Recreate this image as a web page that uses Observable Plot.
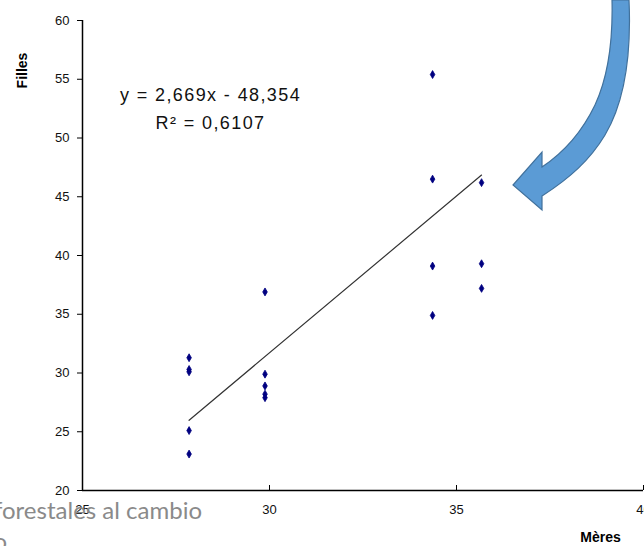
<!DOCTYPE html>
<html><head><meta charset="utf-8">
<script src="https://cdn.jsdelivr.net/npm/d3@7"></script>
<script src="https://cdn.jsdelivr.net/npm/@observablehq/plot@0.6"></script>
<style>
body{margin:0;background:#fff;}
#chart{width:644px;height:546px;overflow:hidden;position:relative;}
#chart svg{overflow:hidden;}
</style>
</head><body><div id="chart"></div>
<script>
// Data
const meres  = [27.85, 27.85, 27.85, 27.85, 27.85,
                29.88, 29.88, 29.88, 29.88, 29.88,
                34.36, 34.36, 34.36, 34.36,
                35.67, 35.67, 35.67];
const filles = [31.3, 30.3, 30.1, 25.1, 23.1,
                36.9, 29.9, 28.9, 28.2, 27.9,
                55.4, 46.5, 39.1, 34.9,
                46.2, 39.3, 37.2];
const xTicks = [25, 30, 35, 40];
const yTicks = [20, 25, 30, 35, 40, 45, 50, 55, 60];
const slope = 2.669, intercept = -48.354;
const equationText = "y = 2,669x - 48,354";
const r2Text = "R\u00B2 = 0,6107";
const xLabel = "Mères";
const yLabel = "Filles";
const overlayLine1 = "forestales al cambio";
const overlayLine2 = "o";

const pts = meres.map((m, i) => ({m, f: filles[i]}));
const trendX = [d3.min(meres), d3.max(meres)];

const chart = Plot.plot({
  width: 644, height: 546,
  marginLeft: 82, marginRight: 1, marginTop: 20, marginBottom: 56,
  x: {domain: [25, 40], label: null},
  y: {domain: [20, 60], label: null},
  style: {fontFamily: "'Liberation Sans', Arial, sans-serif", fontSize: "13px", background: "white", color: "#000"},
  marks: [
    Plot.axisY({ticks: yTicks, tickSize: 5, tickPadding: 8, label: null, fontSize: 13, stroke: "#000", fill: "#111"}),
    Plot.axisX({ticks: xTicks, tickSize: 5, dy: -5, tickFormat: () => "", label: null, stroke: "#000"}),
    Plot.axisX({ticks: xTicks, tickSize: 0, tickPadding: 14, label: null, fontSize: 13, fill: "#111"}),
    Plot.ruleX([25], {stroke: "#000", strokeWidth: 1.5}),
    Plot.ruleY([20], {stroke: "#000", strokeWidth: 1.5}),
    Plot.line(trendX, {x: d => d, y: d => slope * d + intercept, stroke: "#333", strokeWidth: 1.2}),
    Plot.dot(pts, {x: "m", y: "f", symbol: "diamond", r: 2.4, fill: "#000080", stroke: "#000080", strokeWidth: 0.8}),
    Plot.text([equationText], {text: d => d, frameAnchor: "top-left", dx: 128, dy: 75, fontSize: 18, textAnchor: "middle", lineAnchor: "middle", fill: "#111", className: "eq"}),
    Plot.text([r2Text], {text: d => d, frameAnchor: "top-left", dx: 128, dy: 103, fontSize: 18, textAnchor: "middle", lineAnchor: "middle", fill: "#111", className: "eq"}),
    Plot.text([yLabel], {text: d => d, frameAnchor: "top-left", dx: -60, dy: 50, rotate: -90, fontSize: 14, fontWeight: "bold", textAnchor: "middle", lineAnchor: "middle", fill: "#000"}),
    Plot.text([xLabel], {text: d => d, frameAnchor: "bottom-right", dx: -43, dy: 47, fontSize: 14, fontWeight: "bold", textAnchor: "middle", lineAnchor: "middle", fill: "#000"}),
    Plot.text([overlayLine1], {text: d => d, frameAnchor: "bottom-left", dx: -88.5, dy: 21, textAnchor: "start", lineAnchor: "middle", fontSize: 24, fontFamily: "Lato, 'Open Sans', sans-serif", fill: "#8a8a8a"}),
    Plot.text([overlayLine2], {text: d => d, frameAnchor: "bottom-left", dx: -89, dy: 52, textAnchor: "start", lineAnchor: "middle", fontSize: 24, fontFamily: "Lato, 'Open Sans', sans-serif", fill: "#8a8a8a"})
  ]
});
document.getElementById("chart").appendChild(chart);
d3.select(chart).selectAll(".eq text").style("letter-spacing", "1.4px");

// decorative curved arrow (slide overlay)
const arrowPath = "M629,0 C631,45 627,98 605,135 C590,160 570,178 542,196 L542,210 L513,185 L542,152 L542,167 C563,153 582,132 595,105 C608,77 613,40 612,0 Z";
d3.select(chart).append("path")
  .attr("d", arrowPath)
  .attr("fill", "#5b9bd5")
  .attr("stroke", "#41719c")
  .attr("stroke-width", 1.2);
</script>
</body></html>
